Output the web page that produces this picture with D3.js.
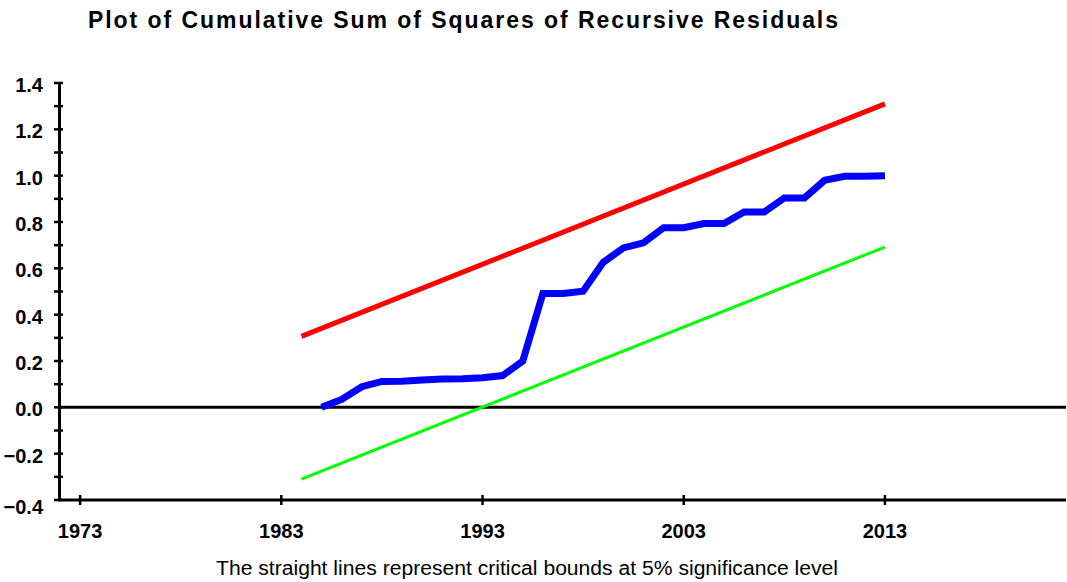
<!DOCTYPE html>
<html>
<head>
<meta charset="utf-8">
<script src="https://cdn.jsdelivr.net/npm/d3@7"></script>
<style>
  body { margin: 0; background: #fff; }
  text { font-family: "Liberation Sans", Arial, sans-serif; }
</style>
</head>
<body>
<svg id="chart"></svg>
<script>
let w = 1067;
let h = 582;

// cusum of squares, one point per year
let years = [1985, 1986, 1987, 1988, 1989, 1990, 1991, 1992, 1993, 1994, 1995, 1996, 1997, 1998, 1999,
  2000, 2001, 2002, 2003, 2004, 2005, 2006, 2007, 2008, 2009, 2010, 2011, 2012, 2013];
let cusumsq = [0.0, 0.034, 0.089, 0.112, 0.113, 0.118, 0.122, 0.123, 0.128, 0.137, 0.2, 0.491, 0.491, 0.501, 0.626,
  0.688, 0.71, 0.775, 0.775, 0.793, 0.793, 0.843, 0.843, 0.904, 0.904, 0.98, 0.997, 0.997, 1.0];

// critical bounds (straight lines)
let boundYears = [1984, 2013];
let upperBound = [0.306, 1.31];
let lowerBound = [-0.31, 0.692];

let xTicks = [1973, 1983, 1993, 2003, 2013];
let yTicks = [-0.4, -0.2, 0.0, 0.2, 0.4, 0.6, 0.8, 1.0, 1.2, 1.4];
let yMinorTicks = [-0.4, -0.3, -0.2, -0.1, 0.0, 0.1, 0.2, 0.3, 0.4, 0.5, 0.6, 0.7, 0.8, 0.9, 1.0, 1.1, 1.2, 1.3, 1.4];

let xScale = d3.scaleLinear().domain([1972, 2022]).range([60, 1066]);
let yScale = d3.scaleLinear().domain([-0.4, 1.4]).range([500, 83]);

let svg = d3.select("#chart").attr("width", w).attr("height", h);

// title
svg.append("text")
  .attr("x", 88)
  .attr("y", 28)
  .attr("textLength", 750)
  .attr("lengthAdjust", "spacing")
  .style("font-size", "23px")
  .style("font-weight", "bold")
  .text("Plot of Cumulative Sum of Squares of Recursive Residuals");

// zero line
svg.append("line")
  .attr("x1", xScale(1972)).attr("x2", 1066)
  .attr("y1", yScale(0)).attr("y2", yScale(0))
  .attr("stroke", "#000").attr("stroke-width", 3);

// y axis
let yAxis = d3.axisLeft(yScale).tickValues(yMinorTicks).tickSize(0).tickFormat("");
let yg = svg.append("g").attr("transform", "translate(59,0)").call(yAxis);
yg.select(".domain").attr("stroke", "#000").attr("stroke-width", 3);
yg.selectAll(".tick line").remove();
svg.selectAll(".ytick")
  .data(yMinorTicks)
  .enter()
  .append("line")
  .attr("x1", 54).attr("x2", 63)
  .attr("y1", (d) => yScale(d)).attr("y2", (d) => yScale(d))
  .attr("stroke", "#000").attr("stroke-width", 2.5);
svg.selectAll(".ylabel")
  .data(yTicks)
  .enter()
  .append("text")
  .attr("x", 43)
  .attr("y", (d) => yScale(d) + (d == -0.4 ? 14 : 9))
  .attr("text-anchor", "end")
  .style("font-size", "20px")
  .style("font-weight", "bold")
  .text((d) => d3.format(".1f")(d));

// x axis
let xAxis = d3.axisBottom(xScale).tickValues(xTicks).tickSize(0).tickFormat("");
let xg = svg.append("g").attr("transform", "translate(0,500)").call(xAxis);
xg.select(".domain").remove();
svg.append("line")
  .attr("x1", 58).attr("x2", 1066)
  .attr("y1", 500).attr("y2", 500)
  .attr("stroke", "#000").attr("stroke-width", 3);
svg.selectAll(".xtick")
  .data(xTicks)
  .enter()
  .append("line")
  .attr("x1", (d) => xScale(d)).attr("x2", (d) => xScale(d))
  .attr("y1", 495).attr("y2", 505)
  .attr("stroke", "#000").attr("stroke-width", 2.5);
svg.selectAll(".xlabel")
  .data(xTicks)
  .enter()
  .append("text")
  .attr("x", (d) => xScale(d))
  .attr("y", 538)
  .attr("text-anchor", "middle")
  .style("font-size", "20px")
  .style("font-weight", "bold")
  .text((d) => d);

let line = d3.line().x((d) => xScale(d[0])).y((d) => yScale(d[1]));

svg.append("path")
  .datum(d3.zip(boundYears, lowerBound))
  .attr("d", line)
  .attr("fill", "none").attr("stroke", "#00ff00").attr("stroke-width", 3);

svg.append("path")
  .datum(d3.zip(boundYears, upperBound))
  .attr("d", line)
  .attr("fill", "none").attr("stroke", "#ff0000").attr("stroke-width", 5);

svg.append("path")
  .datum(d3.zip(years, cusumsq))
  .attr("d", line)
  .attr("fill", "none").attr("stroke", "#0000ff").attr("stroke-width", 7)
  .attr("stroke-linejoin", "miter");

// footnote
svg.append("text")
  .attr("x", 216)
  .attr("y", 575)
  .attr("textLength", 622)
  .attr("lengthAdjust", "spacingAndGlyphs")
  .style("font-size", "20px")
  .text("The straight lines represent critical bounds at 5% significance level");
</script>
</body>
</html>
